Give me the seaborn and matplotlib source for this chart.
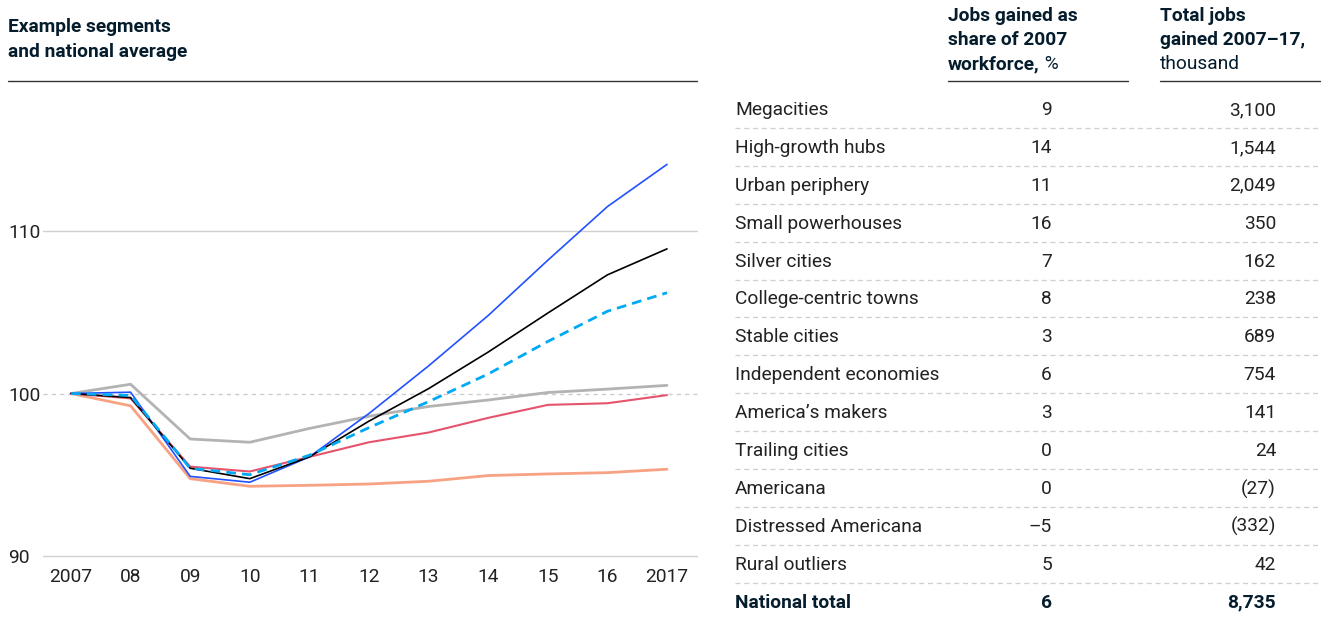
import matplotlib
matplotlib.use("Agg")
import matplotlib.pyplot as plt
import seaborn as sns
import pandas as pd
from matplotlib.lines import Line2D

# ---------------- data ----------------
years = [2007, 2008, 2009, 2010, 2011, 2012, 2013, 2014, 2015, 2016, 2017]
year_labels = ["2007", "08", "09", "10", "11", "12", "13", "14", "15", "16", "2017"]

series_gray = [100, 100.57, 97.2, 97.0, 97.85, 98.6, 99.2, 99.6, 100.06, 100.27, 100.5]
series_salmon = [100, 99.24, 94.76, 94.29, 94.35, 94.43, 94.6, 94.95, 95.05, 95.13, 95.34]
series_red = [100, 99.7, 95.5, 95.2, 96.1, 97.0, 97.6, 98.5, 99.3, 99.4, 99.9]
series_blue = [100, 100.08, 94.9, 94.54, 96.1, 98.77, 101.7, 104.8, 108.2, 111.5, 114.1]
series_black = [100, 99.75, 95.4, 94.76, 96.1, 98.3, 100.3, 102.55, 104.95, 107.3, 108.9]
series_dashed = [100, 99.88, 95.4, 95.0, 96.2, 97.9, 99.5, 101.2, 103.2, 105.06, 106.2]

y_ticks = [90, 100, 110]

segments = ["Megacities", "High-growth hubs", "Urban periphery", "Small powerhouses",
            "Silver cities", "College-centric towns", "Stable cities",
            "Independent economies", "America\u2019s makers", "Trailing cities",
            "Americana", "Distressed Americana", "Rural outliers", "National total"]
share_pct = ["9", "14", "11", "16", "7", "8", "3", "6", "3", "0", "0", "\u20135", "5", "6"]
total_jobs = ["3,100", "1,544", "2,049", "350", "162", "238", "689", "754", "141",
              "24", "(27)", "(332)", "42", "8,735"]

# ---------------- style ----------------
sns.set_theme(style="white")
plt.rcParams["font.family"] = ["Roboto", "DejaVu Sans"]

W, H = 1330, 619
fig = plt.figure(figsize=(W / 100, H / 100), dpi=100)

def fx(px):
    return px / W

def fy(py):
    return 1 - py / H

TEXT = "#222222"
NAVY = "#051C2C"
FS = 13.8

# ---------------- chart ----------------
ax_left, ax_right = 43, 697
ax_top, ax_bottom = 90, 556
ax = fig.add_axes([fx(ax_left), fy(ax_bottom), fx(ax_right - ax_left), (ax_bottom - ax_top) / H])

px_per_unit = 16.25
ax.set_ylim(90, 90 + (ax_bottom - ax_top) / px_per_unit)
px_per_year = (667 - 71) / 10
ax.set_xlim(2007 - (71 - ax_left) / px_per_year, 2017 + (ax_right - 667) / px_per_year)

# gridlines
ax.axhline(110, color="#d0d0d0", lw=1.0, zorder=0, clip_on=False)
ax.axhline(90, color="#d0d0d0", lw=1.0, zorder=0, clip_on=False)
ax.axhline(100, color="#cccccc", lw=1.0, ls=(0, (3, 3)), zorder=0, clip_on=False)

specs = [
    (series_gray, "#B3B3B3", "-", 2.0, 2),
    (series_salmon, "#F7A283", "-", 2.0, 2),
    (series_red, "#E5546C", "-", 1.5, 3),
    (series_blue, "#2251FF", "-", 1.2, 4),
    (series_black, "#000000", "-", 1.2, 5),
    (series_dashed, "#00A9F4", (0, (3.5, 2.2)), 2.0, 6),
]
for vals, col, ls, lw, z in specs:
    df = pd.DataFrame({"year": years, "value": vals})
    sns.lineplot(data=df, x="year", y="value", ax=ax, color=col, lw=lw,
                 linestyle=ls, zorder=z, legend=False)

for s in ax.spines.values():
    s.set_visible(False)
ax.set_xlabel("")
ax.set_ylabel("")
ax.set_xticks(years)
ax.set_xticklabels(year_labels, fontsize=FS, color=TEXT)
ax.set_yticks(y_ticks)
ax.set_yticklabels([str(t) for t in y_ticks], fontsize=FS, color=TEXT, ha="left")
ax.tick_params(axis="x", length=0, pad=9)
ax.tick_params(axis="y", length=0, pad=(ax_left - 8) * 0.72)
ax.grid(False)

# title + rule
fig.text(fx(8), fy(27), "Example segments", fontsize=FS, fontweight="bold",
         color=NAVY, va="center", ha="left")
fig.text(fx(8), fy(52), "and national average", fontsize=FS, fontweight="bold",
         color=NAVY, va="center", ha="left")
fig.add_artist(Line2D([fx(8), fx(697)], [fy(81), fy(81)], color="#333333", lw=1.0))

# ---------------- table ----------------
h1 = ["Jobs gained as", "share of 2007", "workforce,"]
h2 = ["Total jobs", "gained 2007\u201317,"]
hy = [16, 40, 64]
last = None
for i, t in enumerate(h1):
    txt = fig.text(fx(948), fy(hy[i]), t, fontsize=FS, fontweight="bold",
                   color=NAVY, va="center", ha="left")
    last = txt
for i, t in enumerate(h2):
    fig.text(fx(1160), fy(hy[i]), t, fontsize=FS, fontweight="bold",
             color=NAVY, va="center", ha="left")
fig.text(fx(1160), fy(hy[2]), "thousand", fontsize=FS, color=NAVY, va="center", ha="left")

fig.add_artist(Line2D([fx(948), fx(1128)], [fy(81), fy(81)], color="#333333", lw=1.0))
fig.add_artist(Line2D([fx(1160), fx(1320)], [fy(81), fy(81)], color="#333333", lw=1.0))

row0, step = 110, 37.9
for i, (lab, p, t) in enumerate(zip(segments, share_pct, total_jobs)):
    y = row0 + i * step
    bold = (i == len(segments) - 1)
    fw = "bold" if bold else "normal"
    col = NAVY if bold else TEXT
    fig.text(fx(735), fy(y), lab, fontsize=FS, fontweight=fw, color=col, va="center", ha="left")
    fig.text(fx(1052), fy(y), p, fontsize=FS, fontweight=fw, color=col, va="center", ha="right")
    fig.text(fx(1276), fy(y), t, fontsize=FS, fontweight=fw, color=col, va="center", ha="right")
    if i < len(segments) - 1:
        yy = row0 - 1 + i * step + step / 2
        fig.add_artist(Line2D([fx(735), fx(1320)], [fy(yy), fy(yy)], color="#cfcfcf",
                              lw=0.9, ls=(0, (4, 3))))

# non-bold "%" right after "workforce,"
fig.canvas.draw()
renderer = fig.canvas.get_renderer()
bb = last.get_window_extent(renderer)
fig.text(bb.x1 / W, fy(hy[2]), " %", fontsize=FS, color=NAVY, va="center", ha="left")

fig.savefig("out.png", dpi=100)
